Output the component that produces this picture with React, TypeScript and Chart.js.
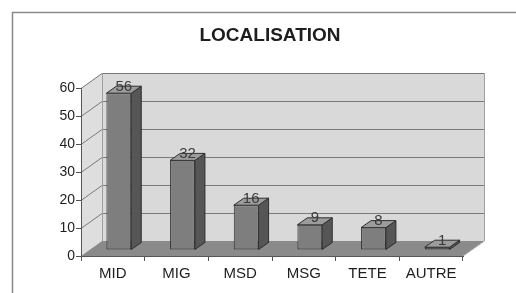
import React, { useEffect, useRef } from "react";
import { Chart, registerables } from "chart.js";

Chart.register(...registerables);

const categories = ["MID", "MIG", "MSD", "MSG", "TETE", "AUTRE"];
const values = [56, 32, 16, 9, 8, 1];
const yTicks = [0, 10, 20, 30, 40, 50, 60];
const titleText = "LOCALISATION";

const WALL_DX = 21;
const WALL_DY = -15;
const BAR_OX = 6;
const BAR_OY = -6;
const BAR_DX = 10;
const BAR_DY = -7;

const threeD = {
  id: "threeD",
  beforeDraw(chart: any) {
    const { ctx, chartArea } = chart;
    const { left, right, top, bottom } = chartArea;
    const yScale = chart.scales.y;
    ctx.save();
    // frame
    ctx.strokeStyle = "#8a8a8a";
    ctx.lineWidth = 1.5;
    ctx.beginPath();
    ctx.moveTo(12.5, 293);
    ctx.lineTo(12.5, 12.5);
    ctx.lineTo(516, 12.5);
    ctx.stroke();
    // title
    ctx.fillStyle = "#1e1e1e";
    ctx.font = "bold 19px 'Liberation Sans', Arial, sans-serif";
    ctx.textAlign = "center";
    ctx.textBaseline = "middle";
    ctx.fillText(titleText, 270, 36);

    // back wall
    ctx.fillStyle = "#d9d9d9";
    ctx.fillRect(left + WALL_DX, top + WALL_DY, right - left, bottom - top);
    // left wall
    ctx.fillStyle = "#dedede";
    ctx.beginPath();
    ctx.moveTo(left, top);
    ctx.lineTo(left + WALL_DX, top + WALL_DY);
    ctx.lineTo(left + WALL_DX, bottom + WALL_DY);
    ctx.lineTo(left, bottom);
    ctx.closePath();
    ctx.fill();
    // floor
    ctx.fillStyle = "#8a8a8a";
    ctx.beginPath();
    ctx.moveTo(left, bottom);
    ctx.lineTo(right, bottom);
    ctx.lineTo(right + WALL_DX, bottom + WALL_DY);
    ctx.lineTo(left + WALL_DX, bottom + WALL_DY);
    ctx.closePath();
    ctx.fill();

    // gridlines
    ctx.strokeStyle = "#7a7a7a";
    ctx.lineWidth = 1;
    yTicks.forEach((v) => {
      if (v === 0) return;
      const y = Math.round(yScale.getPixelForValue(v)) + 0.5;
      ctx.beginPath();
      ctx.moveTo(left, y);
      ctx.lineTo(left + WALL_DX, y + WALL_DY);
      ctx.lineTo(right + WALL_DX, y + WALL_DY);
      ctx.stroke();
    });
    // wall borders
    ctx.strokeStyle = "#a0a0a0";
    ctx.beginPath();
    ctx.moveTo(right + WALL_DX + 0.5, top + WALL_DY);
    ctx.lineTo(right + WALL_DX + 0.5, bottom + WALL_DY);
    ctx.lineTo(right, bottom);
    ctx.stroke();
    ctx.beginPath();
    ctx.moveTo(left + WALL_DX + 0.5, top + WALL_DY);
    ctx.lineTo(left + WALL_DX + 0.5, bottom + WALL_DY);
    ctx.stroke();
    ctx.restore();
  },
  beforeDatasetsDraw(chart: any) {
    chart.ctx.save();
    chart.ctx.translate(BAR_OX, BAR_OY);
  },
  afterDatasetsDraw(chart: any) {
    const ctx = chart.ctx;
    const meta = chart.getDatasetMeta(0);
    meta.data.forEach((el: any, i: number) => {
      const { x, y, base, width } = el.getProps(["x", "y", "base", "width"], true);
      const l = x - width / 2;
      const r = x + width / 2;
      const t = Math.min(y, base);
      const b = Math.max(y, base);
      ctx.strokeStyle = "#2e2e2e";
      ctx.lineWidth = 1;
      ctx.lineJoin = "round";
      // side
      ctx.fillStyle = "#565656";
      ctx.beginPath();
      ctx.moveTo(r, t);
      ctx.lineTo(r + BAR_DX, t + BAR_DY);
      ctx.lineTo(r + BAR_DX, b + BAR_DY);
      ctx.lineTo(r, b);
      ctx.closePath();
      ctx.fill();
      ctx.stroke();
      // top
      ctx.fillStyle = "#9c9c9c";
      ctx.beginPath();
      ctx.moveTo(l, t);
      ctx.lineTo(l + BAR_DX, t + BAR_DY);
      ctx.lineTo(r + BAR_DX, t + BAR_DY);
      ctx.lineTo(r, t);
      ctx.closePath();
      ctx.fill();
      ctx.stroke();
      // label
      ctx.fillStyle = "#3a3a3a";
      ctx.font = "15px 'Liberation Sans', Arial, sans-serif";
      ctx.textAlign = "center";
      ctx.textBaseline = "middle";
      ctx.fillText(String(values[i]), x + BAR_DX / 2, t + BAR_DY / 2 - 3);
    });
    ctx.restore();
  },
};

export default function App() {
  const ref = useRef<HTMLCanvasElement | null>(null);
  useEffect(() => {
    if (!ref.current) return;
    const chart = new Chart(ref.current, {
      type: "bar",
      data: {
        labels: categories,
        datasets: [
          {
            data: values,
            backgroundColor: "#7e7e7e",
            borderColor: "#2e2e2e",
            borderWidth: 1,
            borderSkipped: false,
            barPercentage: 0.39,
            categoryPercentage: 1,
          },
        ],
      },
      options: {
        animation: false,
        responsive: false,
        devicePixelRatio: 1,
        layout: { padding: { left: 0, right: 53, top: 88, bottom: 0 } },
        plugins: {
          legend: { display: false },
          title: { display: false },
          tooltip: { enabled: false },
        },
        scales: {
          x: {
            grid: {
              display: true,
              drawOnChartArea: false,
              drawTicks: true,
              tickLength: 5,
              color: "#555",
              offset: true,
            },
            border: { display: true, color: "#555" },
            ticks: {
              color: "#1e1e1e",
              font: { family: "'Liberation Sans', Arial, sans-serif", size: 15 },
              padding: 4,
              maxRotation: 0,
            },
            afterFit(scale: any) {
              scale.height = 37;
            },
          },
          y: {
            min: 0,
            max: 60,
            ticks: {
              stepSize: 10,
              color: "#1e1e1e",
              font: { family: "'Liberation Sans', Arial, sans-serif", size: 14 },
              padding: 1,
            },
            grid: {
              display: true,
              drawOnChartArea: false,
              drawTicks: true,
              tickLength: 5,
              color: "#555",
            },
            border: { display: true, color: "#555" },
            afterFit(scale: any) {
              scale.width = 81;
            },
          },
        },
      },
      plugins: [threeD],
    });
    return () => chart.destroy();
  }, []);
  return (
    <div style={{ position: "fixed", left: 0, top: 0, width: 516, height: 293, background: "#fff" }}>
      <canvas ref={ref} width={516} height={293} style={{ display: "block" }} />
    </div>
  );
}
